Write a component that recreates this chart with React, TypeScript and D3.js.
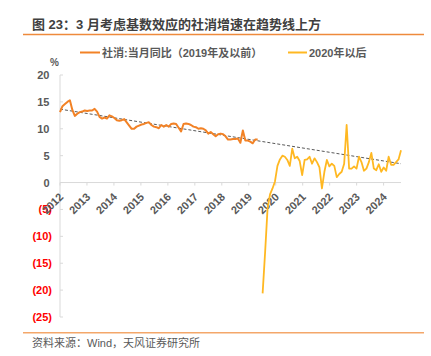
import React from "react";
import * as d3 from "d3";

const TITLE = "图 23：3 月考虑基数效应的社消增速在趋势线上方";
const SOURCE = "资料来源：Wind，天风证券研究所";
const LEGEND_PRE = "社消:当月同比（2019年及以前）";
const LEGEND_POST = "2020年以后";

const YEARS = [2012, 2013, 2014, 2015, 2016, 2017, 2018, 2019, 2020, 2021, 2022, 2023, 2024];
const Y_TICKS = [20, 15, 10, 5, 0, -5, -10, -15, -20, -25];

// 社消当月同比（2019年及以前）
const PRE_2020 = [
  13.1, 14.2, 14.6, 15.0, 15.3, 13.5, 12.4, 12.8, 13.1, 13.2,
  13.4, 13.3, 13.4, 13.4, 13.7, 13.2, 12.2, 11.9, 12.1, 11.9,
  12.5, 12.3, 12.0, 11.6, 11.5, 11.6, 11.8, 11.2, 10.6, 10.0,
  10.0, 10.4, 10.6, 10.8, 10.9, 11.1, 11.2, 10.7, 10.4, 10.3,
  10.1, 10.7, 10.4, 10.7, 10.4, 10.9, 11.0, 10.9, 10.2, 9.5,
  10.9, 11.0, 10.9, 10.7, 10.4, 10.3, 10.0, 10.1, 10.0, 9.7,
  9.1, 9.4, 9.0, 8.6, 9.0, 9.1, 9.0, 8.6, 8.0, 8.0,
  8.1, 8.1, 8.2, 7.4, 9.7, 7.8, 7.8, 7.6, 7.3, 8.0,
  8.0,
];

// 2020年以后
const POST_2020 = [
  -20.6, -13.0, -4.8, -2.2, -1.1, 0.2, 3.1, 4.3, 5.0, 4.8,
  4.2, 3.1, 6.3, 4.5, 4.8, 4.0, 1.4, 4.2, 4.3, 4.8,
  3.5, 4.5, 3.8, 2.8, -1.1, 2.0, 4.2, 3.0, 3.5, 3.1,
  1.0, 1.6, 2.0, 3.5, 10.7, 2.6, 2.6, 3.0, 2.6, 4.8,
  3.8, 2.2, 2.6, 3.8, 5.5, 2.6, 2.3, 3.4, 2.0, 2.8,
  2.2, 4.8, 3.3, 3.3, 3.8, 4.3, 6.0,
];

const TREND = [13.65, 3.5];

const FONT = "'Liberation Sans', Arial, 'Noto Sans CJK SC', sans-serif";
const GRAY = "#595959";

export default function App() {
  const W = 431, H = 356;
  const left = 60, right = 401, top = 75, bottom = 317;
  const gapSlots = 1;
  const total = PRE_2020.length + gapSlots + POST_2020.length;
  const x = d3.scaleLinear().domain([0, total - 1]).range([left, right]);
  const xYear = d3.scaleLinear().domain([2012, 2024]).range([left, 383.6]);
  const y = d3.scaleLinear().domain([-25, 20]).range([bottom, top]);

  const line = d3.line<[number, number]>().x((d) => x(d[0])).y((d) => y(d[1]));
  const preData: [number, number][] = PRE_2020.map((v, i) => [i, v]);
  const postStart = PRE_2020.length + gapSlots;
  const postData: [number, number][] = POST_2020.map((v, i) => [postStart + i, v]);
  const trendData: [number, number][] = [[0, TREND[0]], [total - 1, TREND[1]]];

  return (
    <svg width={W} height={H} style={{ position: "absolute", left: 0, top: 0, background: "#fff" }} fontFamily={FONT}>
      <text x={32} y={29} fontSize={13} fontWeight="bold" fill="#404040">{TITLE}</text>
      <line x1={23} x2={424} y1={34.5} y2={34.5} stroke="#EE8A3C" strokeWidth={1.5} />

      {/* legend */}
      <line x1={80} x2={100} y1={52.5} y2={52.5} stroke="#F28226" strokeWidth={2} />
      <text x={102} y={56.5} fontSize={11} fontWeight="bold" fill={GRAY}>{LEGEND_PRE}</text>
      <line x1={288} x2={307} y1={52.5} y2={52.5} stroke="#FFB822" strokeWidth={2} />
      <text x={309} y={56.5} fontSize={11} fontWeight="bold" fill={GRAY}>{LEGEND_POST}</text>

      <text x={50} y={66} fontSize={10} fontWeight="bold" fill={GRAY}>%</text>

      {/* y axis */}
      <line x1={left} x2={left} y1={y(20)} y2={y(-25)} stroke="#D9D9D9" strokeWidth={1} />
      {Y_TICKS.map((t) => (
        <g key={t}>
          <line x1={left} x2={left + 3} y1={y(t)} y2={y(t)} stroke="#D9D9D9" strokeWidth={1} />
          <text
            x={t < 0 ? 52 : 49.5}
            y={y(t) + 4}
            textAnchor="end"
            fontSize={11}
            fontWeight="bold"
            fill={t < 0 ? "#FF0000" : GRAY}
          >
            {t < 0 ? `(${Math.abs(t)})` : `${t}`}
          </text>
        </g>
      ))}

      {/* x axis at zero */}
      <line x1={left} x2={right} y1={y(0)} y2={y(0)} stroke="#D9D9D9" strokeWidth={1} />
      {YEARS.map((yr) => (
        <g key={yr}>
          <line x1={xYear(yr)} x2={xYear(yr)} y1={y(0)} y2={y(0) + 3} stroke="#D9D9D9" strokeWidth={1} />
          <text
            transform={`translate(${xYear(yr) + 4},${y(0) + 15}) rotate(-45)`}
            textAnchor="end"
            fontSize={11}
            fontWeight="bold"
            fill={GRAY}
          >
            {yr}
          </text>
        </g>
      ))}

      {/* trend */}
      <path d={line(trendData) || ""} fill="none" stroke="#595959" strokeWidth={1} strokeDasharray="3,2" />

      <path d={line(preData) || ""} fill="none" stroke="#F28226" strokeWidth={2} strokeLinejoin="round" />
      <path d={line(postData) || ""} fill="none" stroke="#FFB822" strokeWidth={1.8} strokeLinejoin="round" />

      <line x1={23} x2={424} y1={332.7} y2={332.7} stroke="#F4A76A" strokeWidth={1.5} />
      <text x={32} y={346.5} fontSize={11} fill={GRAY}>{SOURCE}</text>
    </svg>
  );
}
